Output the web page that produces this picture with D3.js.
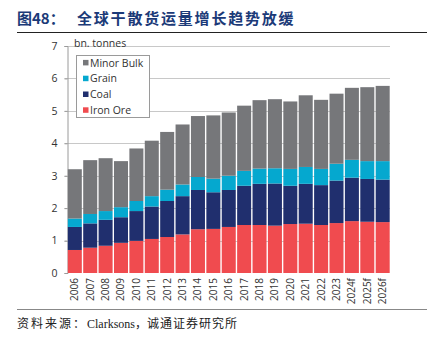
<!DOCTYPE html>
<html>
<head>
<meta charset="utf-8">
<script src="https://cdn.jsdelivr.net/npm/d3@7"></script>
<style>
  body { margin: 0; background: #fff; }
  svg { display: block; }
</style>
</head>
<body>
<div id="chart"></div>
<script>
var years = ["2006","2007","2008","2009","2010","2011","2012","2013","2014","2015","2016",
  "2017","2018","2019","2020","2021","2022","2023","2024f","2025f","2026f"];
var ironOre = [0.71,0.78,0.84,0.93,0.99,1.05,1.11,1.19,1.35,1.36,1.42,1.48,1.48,1.46,1.51,1.52,1.48,1.54,1.60,1.58,1.57];
var coal    = [0.71,0.75,0.80,0.79,0.92,1.00,1.11,1.18,1.21,1.13,1.14,1.21,1.27,1.30,1.18,1.23,1.23,1.31,1.34,1.32,1.31];
var grain   = [0.26,0.29,0.27,0.31,0.31,0.32,0.35,0.36,0.40,0.42,0.44,0.46,0.47,0.47,0.52,0.52,0.50,0.52,0.55,0.55,0.57];
var minorBulk = [1.52,1.66,1.63,1.42,1.62,1.71,1.78,1.85,1.88,1.95,1.95,2.01,2.11,2.13,2.08,2.21,2.13,2.16,2.22,2.28,2.32];
var yTicks = [0,1,2,3,4,5,6,7];
var seriesNames = ["Iron Ore","Coal","Grain","Minor Bulk"];
var colors = {"Iron Ore":"#F04B4F","Coal":"#202F6E","Grain":"#05A8CF","Minor Bulk":"#76777A"};

var W = 429, H = 341;
var svg = d3.select("#chart").append("svg")
    .attr("width", W).attr("height", H);

// title
var title = svg.append("text")
    .attr("x", 17).attr("y", 24)
    .attr("font-family", "'Noto Sans CJK SC'")
    .attr("font-weight", "bold")
    .attr("font-size", 15)
    .attr("fill", "#1B3A78");
title.append("tspan").text("图48：");
title.append("tspan").attr("x", 77).attr("letter-spacing", 1.8).text("全球干散货运量增长趋势放缓");

svg.append("line").attr("x1", 17).attr("x2", 427).attr("y1", 32.5).attr("y2", 32.5)
    .attr("stroke", "#222").attr("stroke-width", 1);

var table = years.map(function (y, i) {
  return {year: y, "Iron Ore": ironOre[i], "Coal": coal[i], "Grain": grain[i], "Minor Bulk": minorBulk[i]};
});
var stacked = d3.stack().keys(seriesNames)(table);

var x = d3.scaleBand().domain(years).range([67.5, 390]).paddingInner(0.09).paddingOuter(0.02);
var y = d3.scaleLinear().domain([0, 7]).range([273, 46]);

// gridlines
svg.append("g").selectAll("line").data(yTicks.slice(1)).enter().append("line")
    .attr("x1", 64.5).attr("x2", 390)
    .attr("y1", function (d) { return Math.round(y(d)) + 0.5; })
    .attr("y2", function (d) { return Math.round(y(d)) + 0.5; })
    .attr("stroke", "#c8c8c8").attr("stroke-width", 1);

// y axis
var yAxis = svg.append("g").attr("transform", "translate(67.5,0)")
    .call(d3.axisLeft(y).tickValues(yTicks).tickSize(3).tickPadding(7).tickFormat(d3.format("d")));
yAxis.select(".domain").attr("stroke", "#9a9a9a");
yAxis.selectAll(".tick line").attr("stroke", "#9a9a9a");
yAxis.selectAll("text").attr("font-family", "'Open Sans', sans-serif").attr("font-size", 10.5).attr("fill", "#333");

// bars
svg.append("g").selectAll("g").data(stacked).enter().append("g")
    .attr("fill", function (d) { return colors[d.key]; })
  .selectAll("rect").data(function (d) { return d; }).enter().append("rect")
    .attr("x", function (d) { return x(d.data.year); })
    .attr("width", x.bandwidth())
    .attr("y", function (d) { return y(d[1]); })
    .attr("height", function (d) { return y(d[0]) - y(d[1]); });

// x labels
svg.append("g").selectAll("text").data(years).enter().append("text")
    .attr("transform", function (d) {
      return "translate(" + (x(d) + x.bandwidth() / 2 + 3.5) + ",278) rotate(-90)";
    })
    .attr("text-anchor", "end")
    .attr("font-family", "'Open Sans', sans-serif")
    .attr("font-size", 10)
    .attr("fill", "#333")
    .text(function (d) { return d; });

// unit
svg.append("text").attr("x", 74).attr("y", 47)
    .attr("font-family", "'Open Sans', sans-serif").attr("font-size", 10.5).attr("fill", "#333")
    .text("bn. tonnes");

// legend
svg.append("rect").attr("x", 76.5).attr("y", 55.5).attr("width", 73).attr("height", 62)
    .attr("fill", "#fff").attr("stroke", "#9a9a9a");
var legendOrder = ["Minor Bulk","Grain","Coal","Iron Ore"];
var leg = svg.append("g").selectAll("g").data(legendOrder).enter().append("g")
    .attr("transform", function (d, i) { return "translate(83," + (62.7 + i * 15.8) + ")"; });
leg.append("rect").attr("x", 0).attr("y", -2.8).attr("width", 5.5).attr("height", 5.5)
    .attr("fill", function (d) { return colors[d]; });
leg.append("text").attr("x", 7).attr("y", 3.8)
    .attr("font-family", "'Open Sans', sans-serif").attr("font-size", 10.5).attr("fill", "#333")
    .text(function (d) { return d; });

// source
svg.append("line").attr("x1", 17).attr("x2", 427).attr("y1", 309.5).attr("y2", 309.5)
    .attr("stroke", "#888").attr("stroke-width", 1);
var src = svg.append("text").attr("x", 17).attr("y", 328)
    .attr("font-family", "'Liberation Serif', 'Noto Sans CJK SC', serif")
    .attr("font-size", 12).attr("fill", "#222");
src.append("tspan").attr("letter-spacing", 2).text("资料来源：");
src.append("tspan").text("Clarksons，");
src.append("tspan").attr("letter-spacing", 1).text("诚通证券研究所");
</script>
</body>
</html>
